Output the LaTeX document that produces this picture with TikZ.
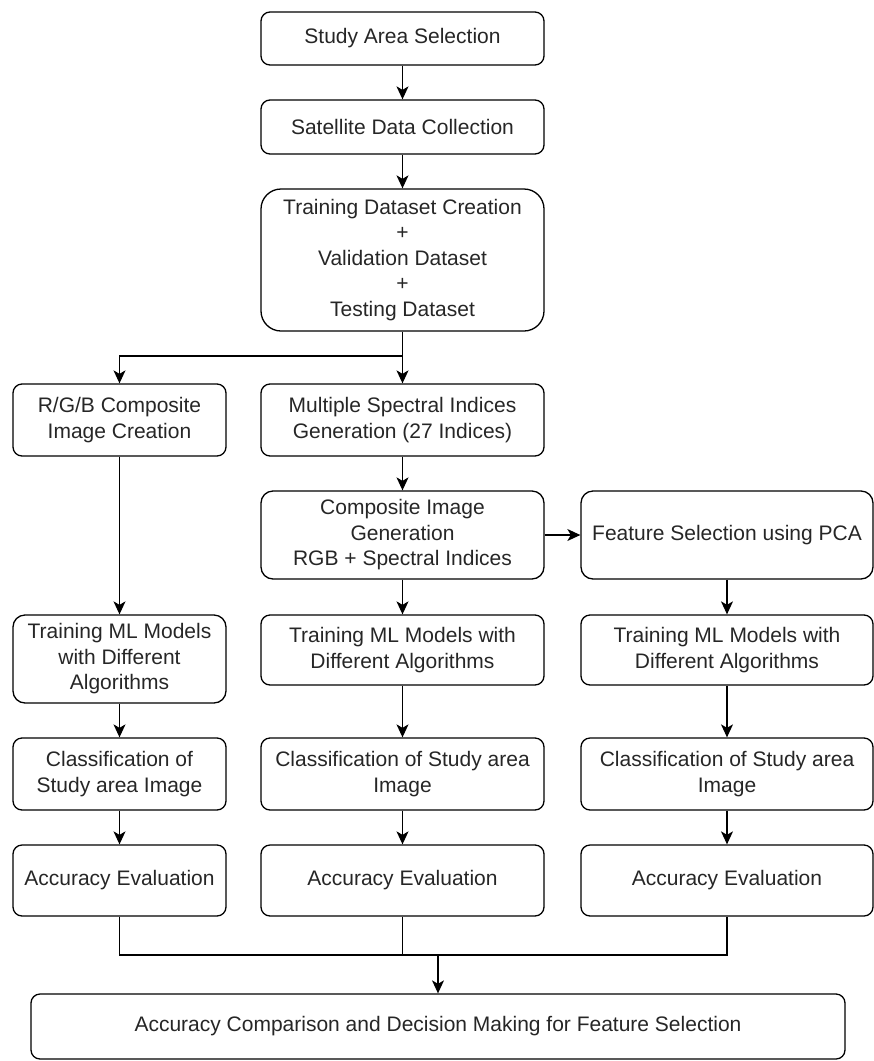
\documentclass[tikz,border=0pt]{standalone}
\usepackage{fontspec}
\setmainfont{Liberation Sans}
\usetikzlibrary{arrows.meta}
\tikzset{
  box/.style={draw=black, line width=1.3pt, rounded corners=9pt, align=center,
    font=\fontsize{21}{25.5}\selectfont, text=black!85, inner sep=0pt},
  arr/.style={-{Stealth[length=13pt,width=12pt,inset=3.5pt]}, line width=1.3pt},
  ln/.style={line width=1.3pt}
}
\begin{document}
\begin{tikzpicture}[x=1pt,y=-1pt]
\useasboundingbox (0,0) rectangle (874,1061);
\node[box, minimum width=283pt, minimum height=53pt] (n1) at (402.5,38.5) {Study Area Selection};
\node[box, minimum width=283pt, minimum height=54pt] (n2) at (402.5,127) {Satellite Data Collection};
\node[box, minimum width=283pt, minimum height=142pt, rounded corners=20pt] (n3) at (402.5,260) {Training Dataset Creation\\+\\Validation Dataset\\+\\Testing Dataset};
\node[box, minimum width=213pt, minimum height=72pt] (n4) at (119.5,420) {R/G/B Composite\\Image Creation};
\node[box, minimum width=283pt, minimum height=72pt] (n5) at (402.5,420) {Multiple Spectral Indices\\Generation (27 Indices)};
\node[box, minimum width=283pt, minimum height=88pt, rounded corners=12pt] (n6) at (402.5,535) {Composite Image\\Generation\\RGB + Spectral Indices};
\node[box, minimum width=292pt, minimum height=88pt, rounded corners=12pt] (n7) at (727,535) {Feature Selection using PCA};
\node[box, minimum width=213pt, minimum height=88pt, rounded corners=12pt] (n8) at (119.5,659) {Training ML Models\\with Different\\Algorithms};
\node[box, minimum width=283pt, minimum height=70pt] (n9) at (402.5,650) {Training ML Models with\\Different Algorithms};
\node[box, minimum width=292pt, minimum height=70pt] (n10) at (727,650) {Training ML Models with\\Different Algorithms};
\node[box, minimum width=213pt, minimum height=72pt] (n11) at (119.5,774) {Classification of\\Study area Image};
\node[box, minimum width=283pt, minimum height=72pt] (n12) at (402.5,774) {Classification of Study area\\Image};
\node[box, minimum width=292pt, minimum height=72pt] (n13) at (727,774) {Classification of Study area\\Image};
\node[box, minimum width=213pt, minimum height=71pt] (n14) at (119.5,880.5) {Accuracy Evaluation};
\node[box, minimum width=283pt, minimum height=71pt] (n15) at (402.5,880.5) {Accuracy Evaluation};
\node[box, minimum width=292pt, minimum height=71pt] (n16) at (727,880.5) {Accuracy Evaluation};
\node[box, minimum width=814pt, minimum height=65pt] (n17) at (438,1026.5) {Accuracy Comparison and Decision Making for Feature Selection};

\draw[arr] (n1) -- (n2);
\draw[arr] (n2) -- (n3);
\draw[arr] (n3) -- (n5);
\draw[arr] (n3.south |- 0,356) -| (n4);
\draw[arr] (n4) -- (n8);
\draw[arr] (n5) -- (n6);
\draw[arr] (n6) -- (n7);
\draw[arr] (n6) -- (n9);
\draw[arr] (n7) -- (n10);
\draw[arr] (n8) -- (n11);
\draw[arr] (n9) -- (n12);
\draw[arr] (n10) -- (n13);
\draw[arr] (n11) -- (n14);
\draw[arr] (n12) -- (n15);
\draw[arr] (n13) -- (n16);
\draw[ln] (n14.south) -- (n14.south |- 0,955) -- (n16.south |- 0,955) -- (n16.south);
\draw[ln] (n15.south) -- (n15.south |- 0,955);
\draw[arr] (n17.north |- 0,955) -- (n17.north);
\end{tikzpicture}
\end{document}
